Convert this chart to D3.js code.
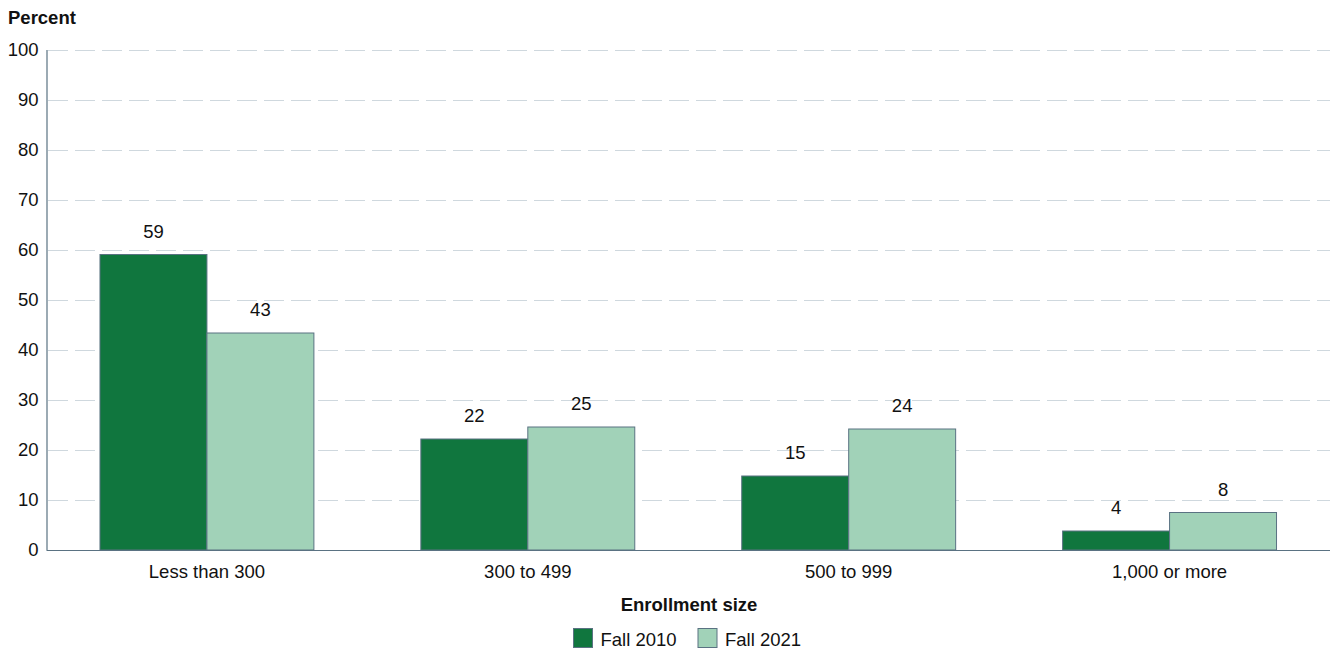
<!DOCTYPE html>
<html>
<head>
<meta charset="utf-8">
<script src="https://cdn.jsdelivr.net/npm/d3@7/dist/d3.min.js"></script>
<style>
  html, body { margin: 0; padding: 0; background: #fff; }
  svg { display: block; font-family: "Liberation Sans", Arial, sans-serif; }
</style>
</head>
<body>
<svg id="chart" width="1330" height="649"></svg>
<script>
// Enrollment-size categories and the share of schools in each, by year
const categories = ["Less than 300", "300 to 499", "500 to 999", "1,000 or more"];
const seriesNames = ["Fall 2010", "Fall 2021"];
const fall2010 = [59.1, 22.2, 14.8, 3.8];
const fall2021 = [43.4, 24.6, 24.2, 7.5];
const yTicks = [0, 10, 20, 30, 40, 50, 60, 70, 80, 90, 100];

const colors = { "Fall 2010": "#10763e", "Fall 2021": "#a1d2b8" };
const barStroke = "#5a7282";
const fontSize = 18.5;

const svg = d3.select("#chart");
const margin = { top: 50, right: 0, bottom: 99, left: 46.5 };
const W = 1330, H = 649;
const innerW = W - margin.left - margin.right;
const innerH = H - margin.top - margin.bottom;

const g = svg.append("g").attr("transform", `translate(${margin.left},${margin.top})`);

const x0 = d3.scaleBand().domain(categories).range([0, innerW]).paddingInner(1 / 3).paddingOuter(1 / 6);
const x1 = d3.scaleBand().domain(seriesNames).range([0, x0.bandwidth()]);
const y = d3.scaleLinear().domain([0, 100]).range([innerH, 0]);

// dashed horizontal gridlines
g.append("g")
  .selectAll("line")
  .data(yTicks.filter(d => d > 0))
  .join("line")
  .attr("x1", 0).attr("x2", innerW)
  .attr("y1", d => Math.round(y(d)) + 0.5).attr("y2", d => Math.round(y(d)) + 0.5)
  .attr("stroke", "#cfd8de")
  .attr("stroke-width", 1)
  .attr("stroke-dasharray", "20,7")
  .attr("stroke-dashoffset", -1.5);

// y axis labels
const yAxis = d3.axisLeft(y).tickValues(yTicks).tickSize(0).tickPadding(8);
const yg = g.append("g").call(yAxis);
yg.select(".domain").remove();
yg.selectAll("text")
  .attr("font-size", fontSize)
  .attr("fill", "#111")
  .attr("font-family", "Liberation Sans, Arial, sans-serif");

// bars
const rows = categories.map((c, i) => ({ category: c, values: [
  { key: "Fall 2010", value: fall2010[i] },
  { key: "Fall 2021", value: fall2021[i] }
]}));

const groups = g.append("g")
  .selectAll("g")
  .data(rows)
  .join("g")
  .attr("transform", d => `translate(${x0(d.category)},0)`);

groups.selectAll("rect")
  .data(d => d.values)
  .join("rect")
  .attr("x", d => x1(d.key))
  .attr("y", d => y(d.value))
  .attr("width", x1.bandwidth())
  .attr("height", d => innerH - y(d.value))
  .attr("fill", d => colors[d.key])
  .attr("stroke", barStroke)
  .attr("stroke-width", 1);

groups.selectAll("text.value")
  .data(d => d.values)
  .join("text")
  .attr("class", "value")
  .attr("x", d => x1(d.key) + x1.bandwidth() / 2)
  .attr("y", d => y(d.value) - 17)
  .attr("text-anchor", "middle")
  .attr("font-size", fontSize)
  .attr("fill", "#111")
  .text(d => d3.format(".0f")(d.value));

// axis lines
g.append("line")
  .attr("x1", 0.5).attr("x2", 0.5).attr("y1", 0).attr("y2", innerH)
  .attr("stroke", "#5a7282").attr("stroke-width", 1.2);
g.append("line")
  .attr("x1", 0).attr("x2", innerW).attr("y1", innerH + 0.5).attr("y2", innerH + 0.5)
  .attr("stroke", "#5a7282").attr("stroke-width", 1.2);

// x axis category labels
const xAxis = d3.axisBottom(x0).tickSize(0).tickPadding(15);
const xg = g.append("g").attr("transform", `translate(0,${innerH})`).call(xAxis);
xg.select(".domain").remove();
xg.selectAll("text")
  .attr("font-size", fontSize)
  .attr("fill", "#111")
  .attr("font-family", "Liberation Sans, Arial, sans-serif");

// axis titles
svg.append("text")
  .attr("x", 8).attr("y", 24)
  .attr("font-size", fontSize).attr("font-weight", "bold").attr("fill", "#111")
  .text("Percent");

svg.append("text")
  .attr("x", 689).attr("y", 611)
  .attr("text-anchor", "middle")
  .attr("font-size", fontSize).attr("font-weight", "bold").attr("fill", "#111")
  .text("Enrollment size");

// legend
const legendItems = [
  { key: "Fall 2010", x: 573 },
  { key: "Fall 2021", x: 697.5 }
];
const lg = svg.append("g");
lg.selectAll("rect")
  .data(legendItems)
  .join("rect")
  .attr("x", d => d.x + 0.5).attr("y", 628.5)
  .attr("width", 19).attr("height", 19)
  .attr("fill", d => colors[d.key])
  .attr("stroke", barStroke).attr("stroke-width", 1);
lg.selectAll("text")
  .data(legendItems)
  .join("text")
  .attr("x", d => d.x + 27.5).attr("y", 646)
  .attr("font-size", fontSize).attr("fill", "#111")
  .text(d => d.key);
</script>
</body>
</html>
